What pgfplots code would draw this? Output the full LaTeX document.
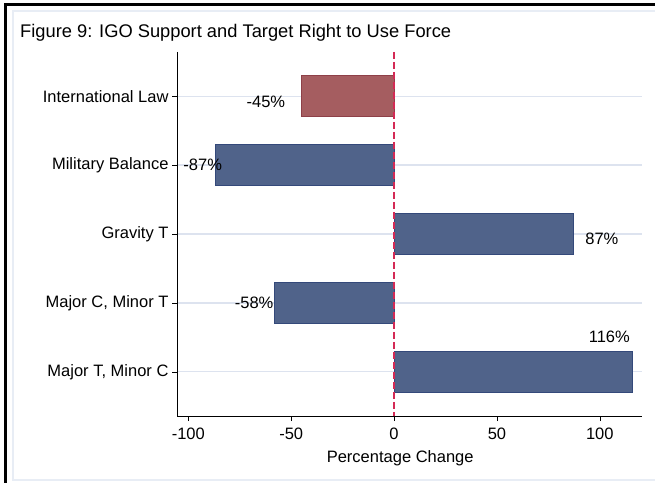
\documentclass[border=0pt]{standalone}
\usepackage{fontspec}
\setmainfont{Liberation Sans}
\usepackage{pgfplots}
\pgfplotsset{compat=1.18}
\definecolor{barblue}{HTML}{50638A}
\definecolor{baredge}{HTML}{34497A}
\definecolor{barred}{HTML}{A55D60}
\definecolor{rededge}{HTML}{8E4048}
\definecolor{zeroline}{HTML}{D42A55}
\definecolor{gridc}{HTML}{DDE3EF}
\definecolor{frameg}{HTML}{E8EDF5}
\newcommand\fs{\fontsize{16.5bp}{19bp}\selectfont}

\begin{document}
\begin{tikzpicture}[x=1bp,y=1bp]
\path[use as bounding box] (0,0) rectangle (655,483);
\fill[white] (0,0) rectangle (655,483);
\draw[frameg, line width=1.2bp] (13,3) rectangle (662,472);
\draw[black, line width=3.5bp] (5.5,0) -- (5.5,478.5) -- (655,478.5);
\node[anchor=base west, inner sep=0pt, font=\fontsize{18.3bp}{21bp}\selectfont] at (20,445) {Figure 9: IGO Support and Target Right to Use Force};
\begin{axis}[
  at={(177bp,67bp)}, anchor=south west,
  scale only axis, width=465bp, height=364bp,
  xmin=-105.5, xmax=120.5,
  ymin=0.36, ymax=5.64, y dir=reverse,
  axis x line=bottom, axis y line=left,
  axis line style={-, black, line width=0.8bp},
  tick align=outside, major tick length=5bp,
  tick style={black, line width=0.6bp},
  xtick={-100,-50,0,50,100},
  ytick={1,2,3,4,5},
  yticklabels={International Law, Military Balance, Gravity T, {Major C, Minor T}, {Major T, Minor C}},
  ticklabel style={font=\fs},
  xticklabel style={yshift=-3bp},
  /pgf/number format/assume math mode=true,
  ymajorgrids=true,
  grid style={gridc, line width=1.2bp},
  xlabel={Percentage Change},
  xlabel style={font=\fs, at={(axis description cs:0.48,0)}, anchor=base, yshift=-46bp},
  bar shift=0pt,
  clip=false,
]
\addplot[xbar, bar width=0.6, fill=barred, draw=rededge, line width=0.6bp]
  coordinates {(-45,1)};
\addplot[xbar, bar width=0.6, fill=barblue, draw=baredge, line width=0.6bp]
  coordinates {(-87,2) (87,3) (-58,4) (116,5)};
\addplot[zeroline, line width=1.4bp, dash pattern=on 7bp off 3bp]
  coordinates {(0,0.36) (0,5.64)};
\addplot[only marks, mark=none, point meta=explicit symbolic,
  nodes near coords={\pgfplotspointmeta\%},
  nodes near coords align=center,
  every node near coord/.append style={font=\fs, inner sep=0pt, anchor=center}]
  table[meta=lab] {
x y lab
-62.3 1.09 -45
-93.0 2.00 -87
101.0 3.07 87
-68.0 4.00 -58
104.6 4.49 116
};
\end{axis}
\end{tikzpicture}
\end{document}
